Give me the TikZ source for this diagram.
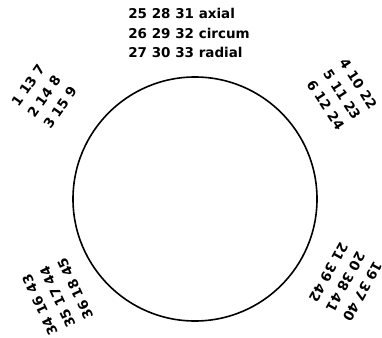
\documentclass[tikz,border=0pt]{standalone}
\usepackage{fontspec}
\setmainfont{DejaVu Sans}
\begin{document}
\begin{tikzpicture}[x=1pt,y=-1pt,
  lbl/.style={font=\bfseries\fontsize{13.5}{19.5}\selectfont, align=left, inner sep=0pt}]
\useasboundingbox (0,0) rectangle (382,337);
\node[draw, circle, line width=1.6pt, minimum size=244pt, inner sep=0pt] (ring) at (195,199) {};
\node[lbl] (top) at (189,33) {25 28 31 axial\\26 29 32 circum\\27 30 33 radial};
\node[lbl, rotate=55] (ul) at (44,96.5) {1 13 7\\2 14 8\\3 15 9};
\node[lbl, rotate=-57] (ur) at (342,94.5) {4 10 22\\5 11 23\\6 12 24};
\node[lbl, rotate=115] (ll) at (57.5,297) {34 16 43\\35 17 44\\36 18 45};
\node[lbl, rotate=-119] (lr) at (345.5,282) {19 37 40\\20 38 41\\21 39 42};
\end{tikzpicture}
\end{document}
